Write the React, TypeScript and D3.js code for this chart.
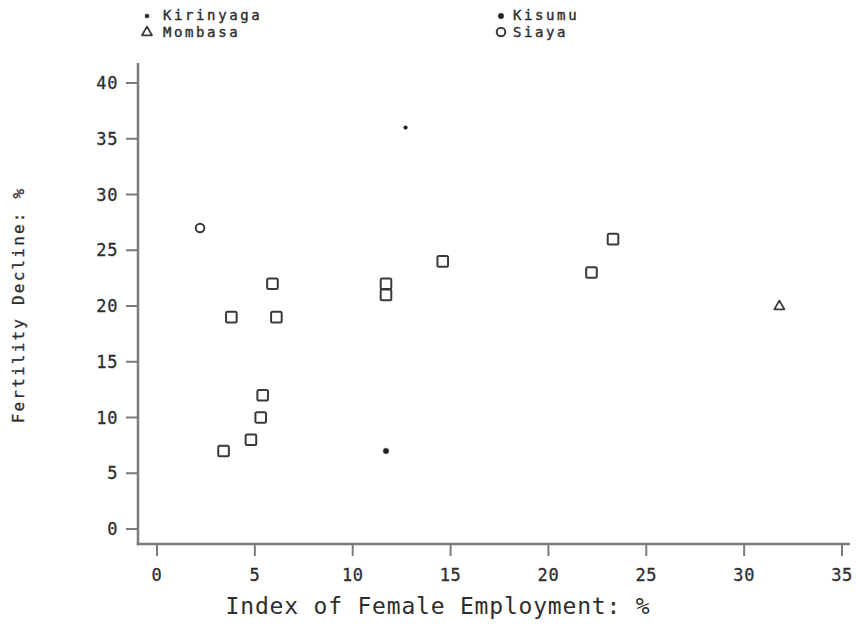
import React from "react";
import * as d3 from "d3";

// District observations: [index of female employment %, fertility decline %]
const kirinyaga: [number, number][] = [[12.7, 36]];
const kisumu: [number, number][] = [[11.7, 7]];
const mombasa: [number, number][] = [[31.8, 20]];
const siaya: [number, number][] = [[2.2, 27]];
const otherDistricts: [number, number][] = [
  [3.4, 7],
  [4.8, 8],
  [5.3, 10],
  [5.4, 12],
  [3.8, 19],
  [6.1, 19],
  [5.9, 22],
  [11.7, 21],
  [11.7, 22],
  [14.6, 24],
  [22.2, 23],
  [23.3, 26],
];

const xTicks = [0, 5, 10, 15, 20, 25, 30, 35];
const yTicks = [0, 5, 10, 15, 20, 25, 30, 35, 40];

const xTitle = "Index of Female Employment: %";
const yTitle = "Fertility Decline: %";

const W = 856;
const H = 633;
const axisColor = "#7a7a7a";
const ink = "#2e2e2e";
const mark = "#3a3a3a";
const font = "'DejaVu Sans Mono', monospace";

const x = d3.scaleLinear().domain([0, 35]).range([157, 842]);
const y = d3.scaleLinear().domain([0, 40]).range([529, 83]);

const axisX0 = 138;
const axisY0 = 544;

const triPath = (s: number) => {
  const h = (s * Math.sqrt(3)) / 2;
  return `M0,${-h * 0.62}L${s / 2},${h * 0.38}L${-s / 2},${h * 0.38}Z`;
};

const Square = ({ cx, cy }: { cx: number; cy: number }) => (
  <rect x={cx - 5.3} y={cy - 5.3} width={10.6} height={10.6} rx={1.5}
    fill="white" stroke={mark} strokeWidth={2} />
);
const Ring = ({ cx, cy }: { cx: number; cy: number }) => (
  <circle cx={cx} cy={cy} r={4.3} fill="white" stroke={mark} strokeWidth={2} />
);
const Tri = ({ cx, cy }: { cx: number; cy: number }) => (
  <path d={triPath(10)} transform={`translate(${cx},${cy})`} fill="white"
    stroke={mark} strokeWidth={1.8} strokeLinejoin="round" />
);
const BigDot = ({ cx, cy }: { cx: number; cy: number }) => (
  <circle cx={cx} cy={cy} r={2.8} fill="#222" stroke="#555" strokeWidth={0.8} />
);
const SmallDot = ({ cx, cy }: { cx: number; cy: number }) => (
  <circle cx={cx} cy={cy} r={2.1} fill="#222" />
);

export default function App() {
  return (
    <svg width={W} height={H} viewBox={`0 0 ${W} ${H}`}
      style={{ position: "absolute", left: 0, top: 0, background: "white" }}>
      {/* legend */}
      <g fontFamily={font} fontSize={14} fill={ink} stroke={ink} strokeWidth={0.4} letterSpacing={2.6}>
        <SmallDot cx={147} cy={16} />
        <text x={163} y={20}>Kirinyaga</text>
        <Tri cx={147} cy={32} />
        <text x={163} y={37}>Mombasa</text>
        <BigDot cx={501} cy={16} />
        <text x={513} y={20}>Kisumu</text>
        <Ring cx={501} cy={32} />
        <text x={513} y={37}>Siaya</text>
      </g>

      {/* axes */}
      <g stroke={axisColor} strokeWidth={2.5} fill="none">
        <line x1={axisX0} y1={63} x2={axisX0} y2={axisY0 + 1.25} />
        <line x1={axisX0 - 1.25} y1={axisY0} x2={850} y2={axisY0} />
        {yTicks.map((t) => (
          <line key={`yt${t}`} x1={axisX0 - 12} x2={axisX0} y1={y(t)} y2={y(t)} strokeWidth={2} />
        ))}
        {xTicks.map((t) => (
          <line key={`xt${t}`} x1={x(t)} x2={x(t)} y1={axisY0} y2={axisY0 + 12} strokeWidth={2} />
        ))}
      </g>
      <g fontFamily={font} fontSize={17} fill={ink} stroke={ink} strokeWidth={0.3} letterSpacing={0.6}>
        {yTicks.map((t) => (
          <text key={`yl${t}`} x={118} y={y(t)} dy="0.36em" textAnchor="end">{t}</text>
        ))}
        {xTicks.map((t) => (
          <text key={`xl${t}`} x={x(t)} y={581} textAnchor="middle">{t}</text>
        ))}
      </g>

      {/* axis titles */}
      <text x={438} y={614} textAnchor="middle" fontFamily={font} fontSize={23}
        letterSpacing={0.8} fill={ink}>{xTitle}</text>
      <text transform={`translate(24,305) rotate(-90)`} textAnchor="middle"
        fontFamily={font} fontSize={16} letterSpacing={2.2} fill={ink}
        stroke={ink} strokeWidth={0.3}>{yTitle}</text>

      {/* points */}
      {otherDistricts.map(([a, b], i) => <Square key={`o${i}`} cx={x(a)} cy={y(b)} />)}
      {siaya.map(([a, b], i) => <Ring key={`s${i}`} cx={x(a)} cy={y(b)} />)}
      {mombasa.map(([a, b], i) => <Tri key={`m${i}`} cx={x(a)} cy={y(b)} />)}
      {kisumu.map(([a, b], i) => <BigDot key={`k${i}`} cx={x(a)} cy={y(b)} />)}
      {kirinyaga.map(([a, b], i) => <SmallDot key={`r${i}`} cx={x(a)} cy={y(b)} />)}
    </svg>
  );
}
